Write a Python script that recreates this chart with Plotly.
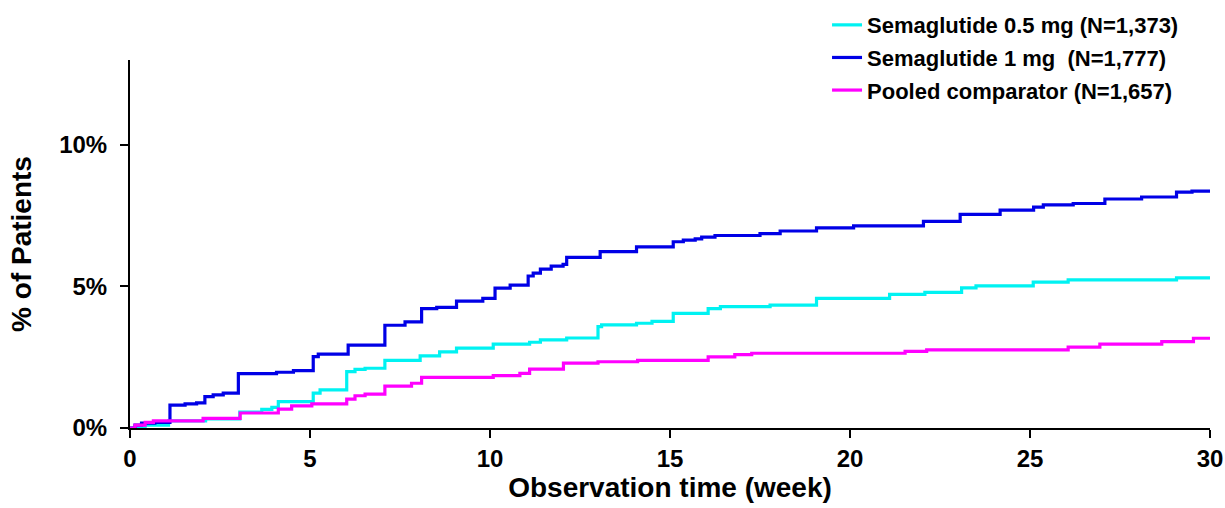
import plotly.graph_objects as go

# Step data: time (week) at which cumulative % changes, and the new value
weeks_05 = [0, 0.2, 0.42, 1.07, 2.1, 3.05, 3.66, 3.94, 4.12, 5.09, 5.28, 6.02, 6.25, 6.53, 7.08, 8.06, 8.6, 9.07,
            10.09, 11.1, 11.4, 12.13, 13.0, 13.1, 14.07, 14.5, 15.09, 16.06, 16.4, 17.78, 19.07, 21.1,
            22.08, 23.1, 23.5, 25.09, 26.06, 29.07, 30]
pct_05 = [0, 0.05, 0.1, 0.25, 0.32, 0.56, 0.66, 0.73, 0.93, 1.23, 1.35, 1.99, 2.07, 2.11, 2.39, 2.55, 2.69, 2.82,
          2.96, 3.03, 3.11, 3.18, 3.58, 3.64, 3.70, 3.77, 4.05, 4.22, 4.29, 4.34, 4.58, 4.72,
          4.79, 4.95, 5.02, 5.15, 5.23, 5.30, 5.30]

weeks_1 = [0, 0.14, 0.32, 0.69, 1.11, 1.53, 1.85, 2.08, 2.31, 2.59, 3.01, 4.07, 4.54, 5.09, 5.23, 6.06, 7.08,
           7.64, 8.1, 8.52, 9.07, 9.8, 10.14, 10.56, 11.06, 11.2, 11.4, 11.7, 12.03, 12.13, 13.06, 14.07,
           15.09, 15.37, 15.7, 15.88, 16.25, 17.5, 18.06, 19.07, 20.1, 22.04, 23.06, 24.17, 25.1, 25.37,
           26.2, 27.08, 28.1, 29.07, 29.5, 30]
pct_1 = [0, 0.1, 0.17, 0.2, 0.81, 0.85, 0.89, 1.11, 1.17, 1.23, 1.92, 1.97, 2.03, 2.52, 2.61, 2.93, 3.63,
         3.75, 4.22, 4.26, 4.48, 4.58, 4.94, 5.05, 5.37, 5.47, 5.61, 5.72, 5.78, 6.03, 6.23, 6.40,
         6.58, 6.64, 6.68, 6.74, 6.80, 6.87, 6.96, 7.07, 7.14, 7.30, 7.55, 7.70, 7.80, 7.88,
         7.93, 8.09, 8.16, 8.33, 8.37, 8.37]

weeks_cmp = [0, 0.14, 0.42, 0.65, 2.03, 3.06, 4.12, 4.49, 5.05, 6.02, 6.25, 6.53, 7.08, 7.82, 8.1, 10.09,
             10.83, 11.1, 12.04, 13.0, 14.1, 16.06, 16.8, 17.27, 21.53, 22.13, 26.06, 26.94, 28.66, 29.54, 30]
pct_cmp = [0, 0.1, 0.2, 0.25, 0.34, 0.53, 0.67, 0.78, 0.85, 1.02, 1.14, 1.2, 1.48, 1.58, 1.79, 1.85,
           1.93, 2.08, 2.29, 2.34, 2.39, 2.51, 2.59, 2.64, 2.71, 2.76, 2.86, 2.96, 3.05, 3.17, 3.17]

names = ["Semaglutide 0.5 mg (N=1,373)", "Semaglutide 1 mg  (N=1,777)", "Pooled comparator (N=1,657)"]
colors = ["#00F2F2", "#0000E6", "#FF00FF"]

x_ticks = [0, 5, 10, 15, 20, 25, 30]
y_ticks = [0, 5, 10]
y_labels = ["0%", "5%", "10%"]

FONT = "Liberation Sans, Arial, sans-serif"

fig = go.Figure()
for xs, ys, nm, c in zip([weeks_05, weeks_1, weeks_cmp], [pct_05, pct_1, pct_cmp], names, colors):
    fig.add_trace(go.Scatter(x=xs, y=ys, mode="lines", name=nm, legendgroup=nm,
                             line=dict(color=c, width=3.2, shape="hv")))

fig.update_layout(
    width=1225, height=508,
    margin=dict(l=130, r=15, t=60, b=80, autoexpand=False),
    paper_bgcolor="white", plot_bgcolor="white",
    font=dict(family=FONT, color="black", size=22, weight="bold"),
    legend=dict(x=0.6454, y=1.152, xanchor="left", yanchor="top", bgcolor="rgba(0,0,0,0)",
                font=dict(family=FONT, size=22, weight="bold", color="black"),
                tracegroupgap=1, itemwidth=30),
    xaxis=dict(range=[0, 30], tickvals=x_ticks, showgrid=False, zeroline=False,
               showline=True, linecolor="black", linewidth=2,
               ticks="outside", ticklen=8, tickwidth=2, tickcolor="black",
               tickfont=dict(family=FONT, size=24, weight="bold"),
               title=dict(text="Observation time (week)", standoff=6,
                          font=dict(family=FONT, size=28, weight="bold"))),
    yaxis=dict(range=[0, 13], tickvals=y_ticks, ticktext=y_labels, showgrid=False, zeroline=False,
               showline=True, linecolor="black", linewidth=2,
               ticks="outside", ticklen=8, tickwidth=2, tickcolor="black",
               ticklabelstandoff=8,
               tickfont=dict(family=FONT, size=24, weight="bold"),
               title=dict(text="% of Patients", standoff=19,
                          font=dict(family=FONT, size=28, weight="bold"))),
)

fig.write_html("out.html")
